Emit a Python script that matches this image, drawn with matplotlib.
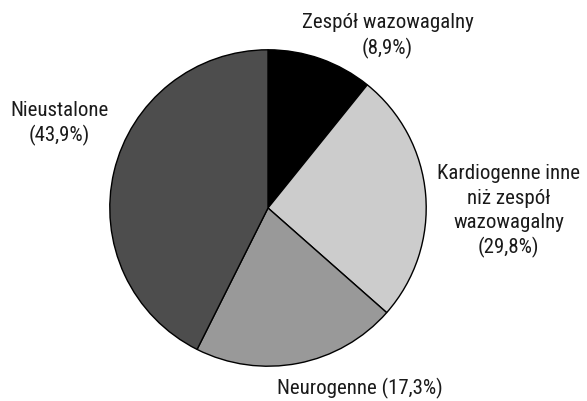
import matplotlib
matplotlib.use("Agg")
import matplotlib.pyplot as plt

# Slice sizes as drawn (angles, expressed as %)
categories = ["Zespół wazowagalny", "Kardiogenne inne niż zespół wazowagalny",
              "Neurogenne", "Nieustalone"]
values = [10.8, 25.7, 20.9, 42.6]
label_texts = ["Zespół wazowagalny\n(8,9%)",
               "Kardiogenne inne\nniż zespół\nwazowagalny\n(29,8%)",
               "Neurogenne (17,3%)",
               "Nieustalone\n(43,9%)"]
colors = ["#000000", "#cccccc", "#999999", "#4d4d4d"]

plt.rcParams['font.family'] = ['Roboto Condensed', 'Archivo Narrow', 'DejaVu Sans']

fig = plt.figure(figsize=(5.87, 4.02), dpi=100)
ax = fig.add_axes([109 / 587, 34 / 402, 318 / 587, 318 / 402])
ax.pie(values, colors=colors, startangle=90, counterclock=False,
       wedgeprops=dict(edgecolor="black", linewidth=1.0))
ax.set_xlim(-1.005, 1.005)
ax.set_ylim(-1.005, 1.005)
ax.set_aspect('auto')

label_pos = [(0.755, 1.094), (1.522, -0.015), (0.579, -1.135), (-1.321, 0.54)]
for txt, (x, y) in zip(label_texts, label_pos):
    ax.text(x, y, txt, ha="center", va="center", multialignment="center",
            fontsize=15, color="#1a1a1a", linespacing=1.34, clip_on=False)

fig.savefig("out.png", dpi=100)
